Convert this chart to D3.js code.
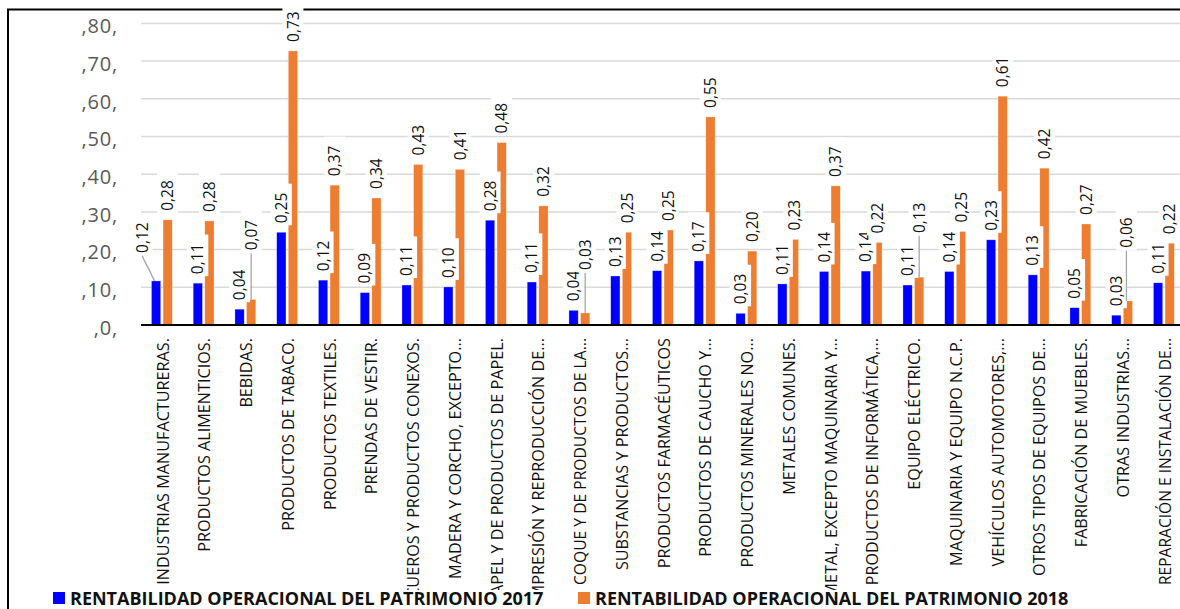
<!DOCTYPE html>
<html><head><meta charset="utf-8">
<script src="https://cdn.jsdelivr.net/npm/d3@7"></script>
<style>body{margin:0;background:#fff}svg{display:block}</style>
</head><body>
<svg id="c" width="1180" height="609"></svg>
<script>
const categories = ["INDUSTRIAS MANUFACTURERAS.","PRODUCTOS ALIMENTICIOS.","BEBIDAS.","PRODUCTOS DE TABACO.","PRODUCTOS TEXTILES.","PRENDAS DE VESTIR.","CUEROS Y PRODUCTOS CONEXOS.","MADERA Y CORCHO, EXCEPTO...","PAPEL Y DE PRODUCTOS DE PAPEL.","IMPRESIÓN Y REPRODUCCIÓN DE...","COQUE Y DE PRODUCTOS DE LA...","SUBSTANCIAS Y PRODUCTOS...","PRODUCTOS FARMACÉUTICOS","PRODUCTOS DE CAUCHO Y...","PRODUCTOS MINERALES NO...","METALES COMUNES.","METAL, EXCEPTO MAQUINARIA Y...","PRODUCTOS DE INFORMÁTICA,...","EQUIPO ELÉCTRICO.","MAQUINARIA Y EQUIPO N.C.P.","VEHÍCULOS AUTOMOTORES,...","OTROS TIPOS DE EQUIPOS DE...","FABRICACIÓN DE MUEBLES.","OTRAS INDUSTRIAS...","REPARACIÓN E INSTALACIÓN DE..."];
const values2017 = [0.117,0.111,0.042,0.246,0.119,0.086,0.106,0.101,0.278,0.114,0.039,0.130,0.144,0.170,0.031,0.109,0.142,0.143,0.106,0.142,0.226,0.133,0.046,0.026,0.112];
const values2018 = [0.279,0.276,0.068,0.727,0.371,0.337,0.426,0.413,0.484,0.316,0.032,0.246,0.252,0.552,0.196,0.227,0.369,0.219,0.127,0.248,0.607,0.416,0.268,0.064,0.217];
const seriesNames = ["RENTABILIDAD OPERACIONAL DEL PATRIMONIO 2017","RENTABILIDAD OPERACIONAL DEL PATRIMONIO 2018"];
const yTicks = [0,0.1,0.2,0.3,0.4,0.5,0.6,0.7,0.8];
const yTickLabels = [",0,",",10,",",20,",",30,",",40,",",50,",",60,",",70,",",80,"];

// layout / style (not data)
const colors = ["#0000FF","#ED7D31"];
const plotLeft = 141, step = 41.75, baseY = 325, topY = 23.4;
// labels moved with leader lines: [series, index, dx, lift]
const leaders = [[0,0,-14,19],[1,2,0,40],[1,10,0,34],[1,18,0,35],[1,23,-1.5,44]];
// category labels that run past the label area (clipped like the original)
const overflowing = [6,8,9,16];

const svg = d3.select("#c");
const x0 = d3.scaleBand().domain(categories).range([plotLeft, plotLeft + step*categories.length]).padding(0);
const x1 = d3.scaleBand().domain([0,1]).range([step*0.25, step*0.75]).paddingInner(0.2);
const y = d3.scaleLinear().domain([0,0.8]).range([baseY, topY]);
const fmt = v => d3.format(".2f")(v).replace(".", ",");

// frame
svg.append("rect").attr("x",8).attr("y",9.5).attr("width",1300).attr("height",800)
  .attr("fill","none").attr("stroke","#000").attr("stroke-width",2);

// gridlines
svg.append("g").selectAll("line").data(yTicks.slice(1)).join("line")
  .attr("x1",plotLeft).attr("x2",1185).attr("y1",d=>y(d)).attr("y2",d=>y(d))
  .attr("stroke","#d9d9d9").attr("stroke-width",1.5);

// y tick labels
svg.append("g").selectAll("text").data(yTicks).join("text")
  .attr("x",118).attr("y",d=>y(d)+2.5).attr("dy","0.36em").attr("text-anchor","end")
  .attr("font-family","Open Sans").attr("font-size",20).attr("letter-spacing",0.8)
  .attr("fill","#595959").text((d,i)=>yTickLabels[i]);

// bars
const series = [values2017, values2018];
series.forEach((vals,s)=>{
  svg.append("g").selectAll("rect").data(vals).join("rect")
    .attr("x",(d,i)=>x0(categories[i]) + x1(s))
    .attr("width",x1.bandwidth())
    .attr("y",d=>y(d)).attr("height",d=>baseY - y(d))
    .attr("fill",colors[s]).attr("stroke","#fff").attr("stroke-width",0.6).attr("stroke-opacity",0.5);
});

// axis line
svg.append("line").attr("x1",plotLeft).attr("x2",1185).attr("y1",baseY).attr("y2",baseY)
  .attr("stroke","#000").attr("stroke-width",2);

// data labels
const lblG = svg.append("g");
series.forEach((vals,s)=>{
  vals.forEach((v,i)=>{
    const cx = x0(categories[i]) + x1(s) + x1.bandwidth()/2;
    const top = y(v);
    const L = leaders.find(l=>l[0]===s && l[1]===i);
    const dx = L ? L[2] : 0, lift = L ? L[3] : 0;
    const tx = cx + dx, ty = top - 9 - lift;
    if (L) {
      lblG.append("line").attr("x1",tx).attr("y1",ty+3).attr("x2",cx - (dx? 1.5:0)).attr("y2",top)
        .attr("stroke","#a6a6a6").attr("stroke-width",1.3);
    }
    const g = lblG.append("g").attr("transform",`translate(${tx},${ty}) rotate(-90)`);
    const r = g.append("rect").attr("fill","#fff");
    const t = g.append("text").attr("x",0).attr("y",0).attr("dy","0.36em")
      .attr("font-family","Open Sans").attr("font-size",15.5).attr("fill","#111").text(fmt(v));
    const len = t.node().getComputedTextLength();
    r.attr("x",-2).attr("y",-10.5).attr("width",len+11).attr("height",21);
  });
});

// category labels
svg.append("clipPath").attr("id","catclip").append("rect").attr("x",0).attr("y",330).attr("width",1180).attr("height",260);
const catG = svg.append("g");
const baseSize = 16;
const cats = catG.selectAll("text").data(categories).join("text")
  .attr("transform",d=>`translate(${x0(d)+x0.bandwidth()/2+1},338) rotate(-90)`)
  .attr("text-anchor","end").attr("dy","0.36em")
  .attr("font-family","Open Sans").attr("font-size",baseSize).attr("fill","#111").text(d=>d);
// size so that the first label matches the original length, then keep others inside
const refLen = 247;
const k = refLen / cats.nodes()[0].getComputedTextLength();
cats.each(function(d,i){
  const el = d3.select(this);
  const fs = baseSize * k;
  el.attr("font-size", fs);
  if (overflowing.includes(i)) return;
  const l = this.getComputedTextLength();
  if (l > refLen) el.attr("font-size", fs * refLen / l);
});
// clip the overflowing labels through wrapper groups
cats.filter((d,i)=>overflowing.includes(i)).each(function(){
  const wrap = catG.append("g").attr("clip-path","url(#catclip)");
  wrap.node().appendChild(this);
});

// legend
const legX = [53, 578];
seriesNames.forEach((n,s)=>{
  svg.append("rect").attr("x",legX[s]).attr("y",592).attr("width",12).attr("height",12).attr("fill",colors[s]);
  svg.append("text").attr("x",legX[s]+17).attr("y",604.5)
    .attr("font-family","Open Sans").attr("font-weight","bold").attr("font-size",18).attr("fill","#111").text(n);
});
</script>
</body></html>
